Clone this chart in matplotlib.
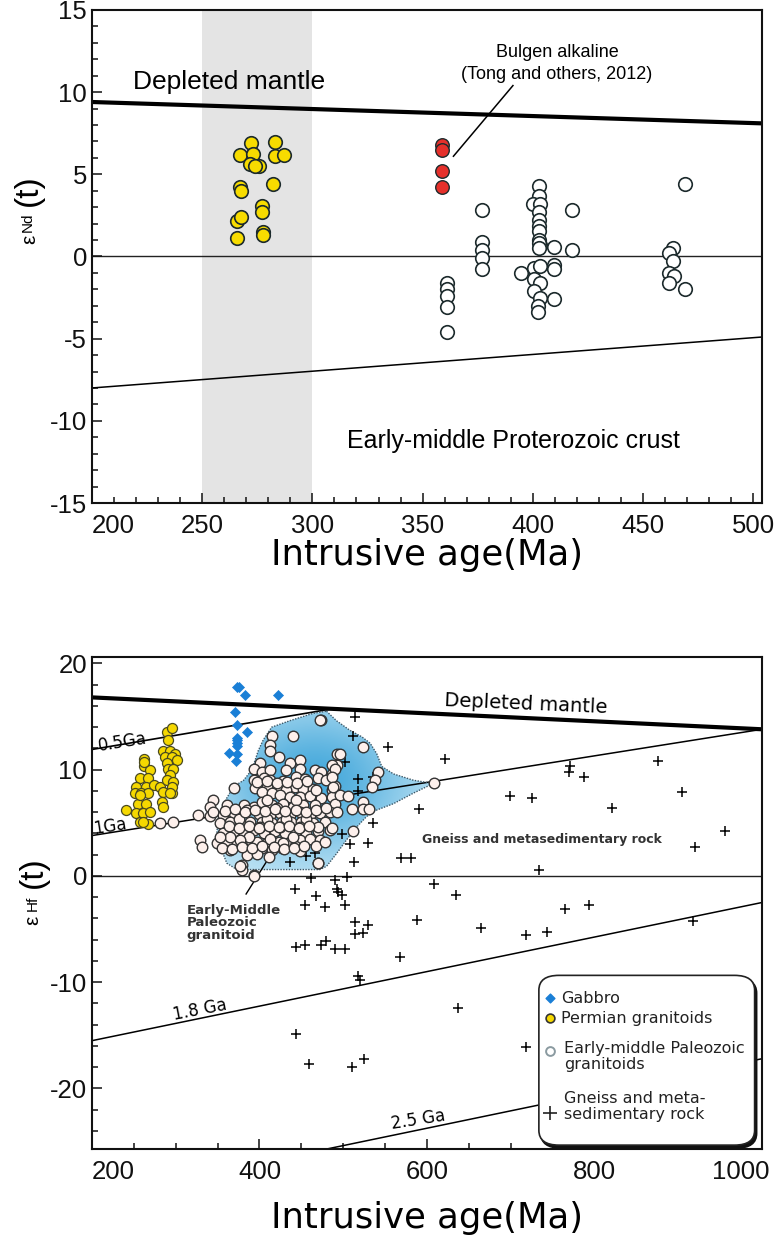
import numpy as np
import matplotlib.pyplot as plt
import matplotlib.transforms as mtransforms
from matplotlib.patches import FancyBboxPatch, Polygon
from matplotlib.colors import LinearSegmentedColormap

plt.rcParams['font.family'] = ['Liberation Sans', 'DejaVu Sans']
plt.rcParams['axes.unicode_minus'] = False

# ---------------- top panel: eNd(t) ----------------
perm_nd_age = [272, 283, 267, 273, 283, 287, 271.5, 276, 274, 267, 267.5, 282, 277, 277, 266, 267.5, 266, 277.5, 277.5]
perm_nd_val = [6.9, 6.95, 6.2, 6.25, 6.1, 6.2, 5.6, 5.5, 5.5, 4.2, 4.0, 4.4, 3.05, 2.7, 2.15, 2.4, 1.1, 1.5, 1.3]

bulgen_age = [359, 359, 359, 359]
bulgen_val = [6.8, 6.5, 5.2, 4.2]

paleo_nd_age = [377, 377, 377, 377, 377,
                361, 361, 361, 361, 361,
                403, 403, 400, 403.5, 403, 403, 403, 403, 403, 403.5, 403, 403,
                394.5, 400.5, 403.5, 409.5, 409.5, 400.5, 403.5, 400.5, 403.5, 402.5, 402.5, 409.5,
                409.5, 418, 418,
                463.5, 462, 463.5, 462, 464, 462, 469, 469]
paleo_nd_val = [2.8, 0.9, 0.4, -0.1, -0.75,
                -1.6, -2.0, -2.4, -3.1, -4.6,
                4.3, 3.7, 3.2, 3.2, 2.7, 2.2, 1.85, 1.55, 1.0, 0.7, 0.8, 0.5,
                -1.0, -0.7, -0.6, -0.5, -0.75, -1.4, -1.6, -2.1, -2.5, -3.0, -3.4, -2.6,
                0.6, 2.8, 0.4,
                0.5, 0.2, -0.3, -1.0, -1.2, -1.6, 4.4, -2.0]

dm_nd_age, dm_nd_val = [200, 504], [9.4, 8.1]
crust_nd_age, crust_nd_val = [200, 504], [-8.0, -4.9]

# ---------------- bottom panel: eHf(t) ----------------
gabbro_age = [373, 375, 383, 422, 371, 373.5, 384.7, 372.6, 373, 373, 373, 364, 373.5, 372]
gabbro_val = [17.8, 17.8, 17.0, 17.0, 15.4, 14.2, 13.5, 13.0, 12.8, 12.5, 12.2, 11.6, 11.5, 10.8]

perm_hf_age = [240.6, 262.5, 262, 269, 257, 267, 253, 265, 274, 281, 251, 259, 267, 285, 295,
               255, 265, 283, 285, 253, 261, 269, 257, 267, 261, 289, 295, 291, 285, 293,
               299, 287, 295, 289, 301, 291, 297, 293, 289, 297, 295, 293, 262, 257]
perm_hf_val = [6.2, 11.05, 10.3, 9.95, 9.2, 9.2, 8.4, 8.4, 8.55, 8.4, 7.8, 7.8, 7.8, 7.9, 7.8,
               6.8, 6.8, 7.0, 6.5, 5.9, 5.9, 6.0, 5.1, 4.9, 5.1, 13.5, 13.9, 12.8, 11.8, 11.8,
               11.5, 11.2, 11.2, 10.6, 10.9, 10.1, 10.1, 9.5, 9.0, 8.85, 8.4, 7.8, 10.7, 7.6]

paleo_hf_age = [474, 440, 415, 413, 413, 423, 401, 436, 448, 393, 403, 413, 432, 448, 466, 474, 486, 492, 492,
                428, 393, 405, 413, 444, 454, 470, 480, 369, 395, 409, 425, 442, 452, 464, 432, 486, 490,
                345, 403, 415, 425, 436, 448, 460, 474, 486,
                341, 361, 381, 393, 403, 415, 428, 440, 452, 466, 490,
                341, 357, 369, 385, 399, 413, 425, 436, 448, 460, 472, 484,
                353, 365, 377, 389, 403, 415, 427, 438, 450, 464, 478,
                357, 369, 381, 393, 405, 419, 430, 444, 456, 470, 484,
                349, 361, 373, 385, 397, 409, 423, 434, 448, 460, 472,
                365, 379, 391, 403, 415, 427, 442, 468, 478,
                385, 397, 411, 448, 379, 379, 393, 470,
                329, 331, 327, 345, 281, 297, 377, 393, 470, 472, 608,
                524, 496, 486, 490, 486, 488, 542, 538, 534, 496, 506, 492, 510, 524, 524, 531, 512, 486,
                375, 409, 432, 456, 387, 413, 440, 421, 444, 468, 409, 377, 428, 401, 425, 448, 470, 365, 353,
                359, 371, 383, 395, 407, 419, 431, 443, 455, 467, 479, 363, 375, 387, 399, 411, 423, 435, 447,
                459, 355, 367, 379, 391, 403, 417, 429, 441, 453, 397, 409, 421, 433, 445, 457]
paleo_hf_val = [14.7, 13.2, 13.2, 12.3, 11.8, 11.2, 10.6, 10.6, 10.9, 10.1, 9.8, 10.0, 10.0, 10.1, 10.0, 9.8, 9.6, 10.4, 11.5,
                8.9, 9.0, 9.2, 9.0, 9.3, 9.1, 9.2, 9.0, 8.3, 8.3, 8.5, 8.4, 8.4, 8.2, 8.2, 8.1, 8.1, 8.5,
                7.1, 7.9, 7.8, 7.6, 7.4, 7.4, 7.5, 7.3, 7.4,
                6.5, 6.7, 6.7, 6.5, 7.0, 6.7, 6.8, 6.5, 6.7, 6.7, 6.8,
                5.6, 5.7, 5.9, 6.2, 5.8, 5.7, 5.9, 5.7, 6.0, 5.7, 5.9, 6.0,
                5.0, 5.1, 5.0, 5.1, 5.1, 5.0, 5.1, 5.1, 5.1, 5.0, 5.1,
                4.0, 4.2, 4.0, 4.3, 4.0, 4.2, 4.0, 4.2, 4.0, 4.2, 4.3,
                3.1, 3.1, 3.2, 3.1, 3.2, 3.1, 3.2, 3.1, 3.4, 3.5, 3.4,
                2.4, 2.8, 2.3, 2.6, 2.4, 2.6, 2.8, 2.8, 3.2,
                2.0, 2.1, 1.8, 2.3, 1.0, 0.6, 0.1, 1.2,
                3.4, 2.7, 5.7, 6.0, 5.0, 5.1, 0.9, 0.0, 1.2, 14.7, 8.7,
                12.1, 11.5, 10.4, 10.1, 9.3, 8.4, 9.8, 9.0, 8.4, 7.6, 7.5, 6.0, 6.3, 7.0, 6.3, 6.3, 4.2, 4.5,
                5.4, 5.4, 5.4, 5.4, 3.7, 3.5, 3.7, 6.4, 7.1, 8.1, 7.1, 3.4, 3.1, 4.6, 4.6, 4.6, 4.6, 3.7, 3.7,
                6.1, 6.3, 6.0, 6.2, 6.1, 6.3, 6.1, 6.2, 6.0, 6.2, 6.4, 4.7, 4.5, 4.7, 4.5, 4.7, 4.6, 4.7, 4.5,
                4.7, 2.6, 2.5, 2.7, 2.6, 2.8, 2.7, 2.5, 2.6, 2.8, 8.8, 8.9, 8.7, 8.8, 8.7, 8.9]

gneiss_age = [514, 512, 554, 622, 771, 769, 787, 876, 502, 518, 536, 518, 699, 725, 591, 821, 905, 956, 920,
              569, 581, 734, 536, 498, 530, 508, 513, 436, 456, 466, 504, 462, 490, 442, 492, 494, 498, 468,
              454, 478, 502, 514, 530, 514, 524, 444, 454, 474, 480, 490, 502, 518, 520, 568, 608, 635, 588,
              665, 718, 743, 765, 793, 918, 637, 718, 444, 459, 511, 525]
gneiss_val = [15.0, 13.2, 12.1, 11.0, 10.3, 9.8, 9.3, 10.8, 10.7, 9.1, 9.3, 8.0, 7.5, 7.3, 6.3, 6.4, 7.9, 4.2, 2.7,
              1.7, 1.7, 0.6, 5.0, 3.9, 3.1, 3.0, 1.3, 1.3, 1.9, 2.2, -0.1, -0.2, -0.4, -1.2, -1.2, -1.5, -1.8, -1.9,
              -2.7, -2.9, -2.7, -4.3, -4.6, -5.5, -5.4, -6.7, -6.5, -6.5, -6.1, -6.9, -6.9, -9.4, -9.8, -7.6, -0.8, -1.8, -4.1,
              -4.9, -5.6, -5.3, -3.1, -2.7, -4.2, -12.4, -16.1, -14.9, -17.7, -18.0, -17.2]

field_age = [480, 492, 508, 522, 532, 540, 546, 560, 584, 607.5, 584, 560, 540, 528, 516, 504, 492, 480,
             472, 444, 385, 373, 361, 355, 349, 351, 357, 369, 381, 391, 398.6, 404.5, 414.6, 436, 464]
field_val = [15.5, 14.6, 13.7, 13.1, 12.5, 11.5, 10.3, 9.6, 9.0, 8.7, 7.8, 6.8, 6.2, 5.6, 4.6, 3.4, 2.1, 0.9,
             0.6, 0.6, 0.6, 0.6, 1.2, 2.4, 4.0, 5.6, 6.8, 8.4, 9.0, 10.0, 11.8, 12.8, 14.0, 14.6, 15.3]

dm_hf_age, dm_hf_val = [200, 1000], [16.8, 13.8]
ga05_age, ga05_val = [200, 485], [11.9, 15.7]
ga1_age, ga1_val = [200, 1000], [3.8, 13.8]
ga18_age, ga18_val = [200, 1000], [-15.5, -2.5]
ga25_age, ga25_val = [480, 1000], [-25.7, -17.2]

edge = '#1c2a2c'
fig = plt.figure(figsize=(7.75, 12.46), dpi=100)
ax1 = fig.add_axes([0.1187, 0.5963, 0.8645, 0.3957])
ax2 = fig.add_axes([0.1187, 0.0778, 0.8645, 0.3949])


def style_axes(ax):
    for s in ax.spines.values():
        s.set_linewidth(1.5)
        s.set_color('#111111')
    ax.tick_params(which='both', direction='in', width=1.1, labelsize=18.5, colors='#111111')
    ax.tick_params(which='major', length=7)
    ax.tick_params(which='minor', length=4)
    ax.tick_params(axis='x', pad=8)


# ---- top panel ----
ax1.axvspan(250, 300, color='#e4e4e4', lw=0, zorder=0)
ax1.axhline(0, color='#222222', lw=1.0, zorder=1)
ax1.plot(dm_nd_age, dm_nd_val, color='black', lw=3.0, zorder=2)
ax1.plot(crust_nd_age, crust_nd_val, color='black', lw=1.1, zorder=2)
ax1.scatter(paleo_nd_age, paleo_nd_val, s=95, facecolor='white', edgecolor=edge, lw=1.2, zorder=3)
ax1.scatter(perm_nd_age, perm_nd_val, s=95, facecolor='#f7dc00', edgecolor=edge, lw=1.2, zorder=4)
ax1.scatter(bulgen_age, bulgen_val, s=95, facecolor='#e5302b', edgecolor=edge, lw=1.0, zorder=4)
ax1.plot([364, 391], [6.1, 10.4], color='black', lw=1.1, zorder=3)
ax1.text(262, 10.6, 'Depleted mantle', fontsize=19, ha='center', va='center')
ax1.text(411, 12.4, 'Bulgen alkaline', fontsize=13, ha='center', va='center')
ax1.text(411, 11.05, '(Tong and others, 2012)', fontsize=13, ha='center', va='center')
ax1.text(391, -11.2, 'Early-middle Proterozoic crust', fontsize=18, ha='center', va='center')
ax1.set_xlim(200, 504)
ax1.set_ylim(-15, 15)
ax1.set_xticks([200, 250, 300, 350, 400, 450, 500])
ax1.set_xticks(np.arange(200, 505, 10), minor=True)
ax1.set_yticks([-15, -10, -5, 0, 5, 10, 15])
ax1.set_yticks(np.arange(-15, 16, 1), minor=True)
style_axes(ax1)
ax1.get_xticklabels()[0].set_horizontalalignment('left')
ax1.set_xlabel('Intrusive age(Ma)', fontsize=25.5, labelpad=0, family='DejaVu Sans')

# ---- bottom panel ----
ax2.axhline(0, color='#222222', lw=1.0, zorder=1)
for xs, ys, w in [(dm_hf_age, dm_hf_val, 3.0), (ga05_age, ga05_val, 1.2), (ga1_age, ga1_val, 1.1),
                  (ga18_age, ga18_val, 1.1), (ga25_age, ga25_val, 1.1)]:
    ax2.plot(xs, ys, color='black', lw=w, zorder=2)

field = Polygon(np.column_stack([field_age, field_val]), closed=True, facecolor='none',
                edgecolor='#3d5868', linestyle=(0, (1, 1)), lw=1.0, zorder=2)
ax2.add_patch(field)
gx, gy = np.meshgrid(np.linspace(330, 620, 200), np.linspace(0, 16, 200))
shade = np.exp(-((gx - 465) / 120) ** 2 - ((gy - 9) / 7) ** 2)
blues = LinearSegmentedColormap.from_list('fieldblue', ['#cdeaf7', '#48aadc'])
im = ax2.imshow(shade, extent=(330, 620, 0, 16), origin='lower', cmap=blues, aspect='auto',
                vmin=0, vmax=1, zorder=1.5)
im.set_clip_path(field)

ax2.scatter(gneiss_age, gneiss_val, s=45, marker='+', color='black', lw=1.1, zorder=3)
ax2.scatter(paleo_hf_age, paleo_hf_val, s=58, facecolor='#fdf0ec', edgecolor='#333333', lw=1.0, zorder=4)
ax2.scatter(perm_hf_age, perm_hf_val, s=52, facecolor='#f5d800', edgecolor='#4a4a20', lw=0.9, zorder=4)
ax2.scatter(gabbro_age, gabbro_val, s=26, marker='D', facecolor='#1a7fd6', edgecolor='#1a7fd6', lw=0.5, zorder=5)

ax2.text(718, 16.2, 'Depleted mantle', fontsize=14, ha='center', va='center', rotation=-2.5, family='DejaVu Sans')
ax2.text(236, 12.6, '0.5Ga', fontsize=12, ha='center', va='center', rotation=9, family='DejaVu Sans')
ax2.text(222, 4.7, '1Ga', fontsize=12, ha='center', va='center', rotation=9, family='DejaVu Sans')
ax2.text(329, -12.6, '1.8 Ga', fontsize=12, ha='center', va='center', rotation=11, family='DejaVu Sans')
ax2.text(590, -22.9, '2.5 Ga', fontsize=12, ha='center', va='center', rotation=9, family='DejaVu Sans')
ax2.text(737, 3.4, 'Gneiss and metasedimentary rock', fontsize=9, ha='center', va='center',
         color='#333333', fontweight='bold', family='DejaVu Sans')
ax2.text(313, -2.6, 'Early-Middle\nPaleozoic\ngranitoid', fontsize=9.5, ha='left', va='top',
         color='#333333', fontweight='bold', linespacing=0.95, family='DejaVu Sans')
ax2.plot([384, 412], [-1.7, 1.8], color='black', lw=1.0, zorder=3)

ax2.set_xlim(200, 1000)
ax2.set_ylim(-25.7, 20.6)
ax2.set_xticks([200, 400, 600, 800, 1000])
ax2.set_xticks(np.arange(200, 1001, 50), minor=True)
ax2.set_yticks([-20, -10, 0, 10, 20])
ax2.set_yticks(np.arange(-24, 21, 2), minor=True)
style_axes(ax2)
xl = ax2.get_xticklabels()
xl[0].set_horizontalalignment('left')
xl[-1].set_horizontalalignment('right')
xl[-1].set_transform(xl[-1].get_transform() + mtransforms.ScaledTranslation(8 / 100, 0, fig.dpi_scale_trans))
ax2.set_xlabel('Intrusive age(Ma)', fontsize=25.5, labelpad=12, family='DejaVu Sans')

# legend box
tr = ax2.transAxes
shadow = FancyBboxPatch((0.670, 0.002), 0.322, 0.345, boxstyle='round,pad=0,rounding_size=0.03',
                        transform=tr, facecolor='#111111', edgecolor='#111111', lw=1.2, zorder=6)
box = FancyBboxPatch((0.667, 0.008), 0.322, 0.345, boxstyle='round,pad=0,rounding_size=0.03',
                     transform=tr, facecolor='white', edgecolor='#222222', lw=1.2, zorder=7)
ax2.add_patch(shadow)
ax2.add_patch(box)
ax2.scatter([0.684], [0.307], transform=tr, marker='D', s=20, color='#1a7fd6', zorder=8, clip_on=False)
ax2.scatter([0.684], [0.266], transform=tr, s=40, facecolor='#f5d800', edgecolor='#333333', lw=1.2, zorder=8)
ax2.scatter([0.684], [0.200], transform=tr, s=40, facecolor='white', edgecolor='#8a9aa0', lw=1.4, zorder=8)
ax2.scatter([0.684], [0.073], transform=tr, marker='+', s=90, color='#222222', lw=1.2, zorder=8)
lkw = dict(transform=tr, fontsize=11.5, va='center', ha='left', zorder=8, family='DejaVu Sans', color='#222222')
ax2.text(0.700, 0.307, 'Gabbro', **lkw)
ax2.text(0.700, 0.266, 'Permian granitoids', **lkw)
ax2.text(0.704, 0.188, 'Early-middle Paleozoic\ngranitoids', linespacing=1.1, **lkw)
ax2.text(0.704, 0.087, 'Gneiss and meta-\nsedimentary rock', linespacing=1.1, **lkw)

# y labels built from pieces: epsilon, small subscript, large (t)
fig.text(30 / 775, 1 - 239 / 1246, '\u03b5', fontsize=15, rotation=90, ha='center', va='center')
fig.text(28 / 775, 1 - 222 / 1246, 'Nd', fontsize=11, rotation=90, ha='center', va='center')
fig.text(28 / 775, 1 - 190 / 1246, '(t)', fontsize=24, rotation=90, ha='center', va='center')
fig.text(33 / 775, 1 - 920 / 1246, '\u03b5', fontsize=15, rotation=90, ha='center', va='center')
fig.text(33 / 775, 1 - 903 / 1246, 'Hf', fontsize=11, rotation=90, ha='center', va='center')
fig.text(33 / 775, 1 - 872 / 1246, '(t)', fontsize=24, rotation=90, ha='center', va='center')

fig.savefig('out.png', dpi=100)
